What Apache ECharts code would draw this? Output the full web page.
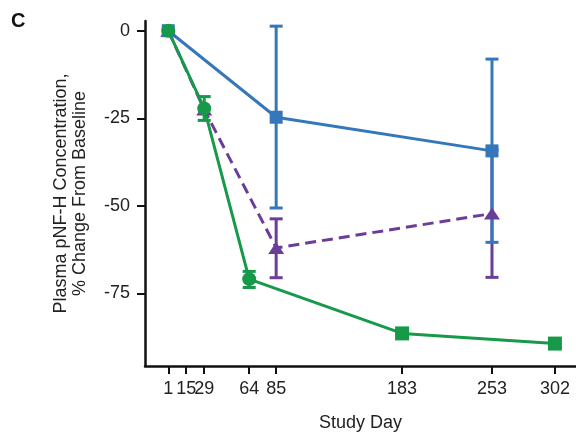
<!DOCTYPE html>
<html>
<head>
<meta charset="utf-8">
<script src="https://cdn.jsdelivr.net/npm/echarts@6/dist/echarts.min.js"></script>
<style>
html,body{margin:0;padding:0;background:#fff;}
#chart{width:576px;height:437px;}
</style>
</head>
<body>
<div id="chart"></div>
<script>
// ---- data ----
const xTickValues = [1, 15, 29, 64, 85, 183, 253, 302];
const yTickValues = [0, -25, -50, -75];

const blueDays  = [1, 85, 253];
const blueMean  = [0, -24.7, -34.3];
const blueUpper = [null, 1.3, -8.1];
const blueLower = [null, -50.6, -60.4];

const purpleDays  = [1, 29, 85, 253];
const purpleMean  = [0, -22.5, -62.0, -52.2];
const purpleUpper = [null, null, -53.7, -34.0];
const purpleLower = [null, null, -70.5, -70.4];

const greenDays    = [1, 29, 64, 183, 302];
const greenMean    = [0, -22.2, -70.9, -86.4, -89.3];
const greenUpper   = [null, -18.8, -68.7, null, null];
const greenLower   = [null, -25.6, -73.3, null, null];
const greenSymbols = ['circle', 'circle', 'circle', 'rect', 'rect'];

// ---- style ----
const BLUE = '#3577bb';
const PURPLE = '#6b3d9a';
const GREEN = '#17994a';
const FONT = "'Liberation Sans', Arial, sans-serif";

function pairs(xs, ys) { return xs.map((x, i) => [x, ys[i]]); }
function errData(xs, up, lo) {
  const out = [];
  xs.forEach((x, i) => { if (up[i] != null && lo[i] != null) out.push([x, lo[i], up[i]]); });
  return out;
}
function errSeries(data, color) {
  return {
    type: 'custom',
    data: data,
    silent: true,
    renderItem: function (params, api) {
      const x = api.value(0);
      const pLo = api.coord([x, api.value(1)]);
      const pHi = api.coord([x, api.value(2)]);
      const w = 6.5;
      const st = { stroke: color, lineWidth: 3, fill: null };
      return {
        type: 'group',
        children: [
          { type: 'line', shape: { x1: pHi[0], y1: pHi[1], x2: pLo[0], y2: pLo[1] }, style: st },
          { type: 'line', shape: { x1: pHi[0] - w, y1: pHi[1], x2: pHi[0] + w, y2: pHi[1] }, style: st },
          { type: 'line', shape: { x1: pLo[0] - w, y1: pLo[1], x2: pLo[0] + w, y2: pLo[1] }, style: st }
        ]
      };
    }
  };
}

const chart = echarts.init(document.getElementById('chart'), null, { renderer: 'canvas' });
chart.setOption({
  animation: false,
  backgroundColor: '#fff',
  grid: { left: 145, right: 0, top: 20.9, bottom: 68.7, containLabel: false },
  graphic: [{
    type: 'text', left: 11, top: 11,
    style: { text: 'C', fontSize: 20, fontWeight: 'bold', fontFamily: FONT, fill: '#111' }
  }],
  xAxis: {
    type: 'value',
    min: -17.1, max: 318.4,
    name: 'Study Day',
    nameLocation: 'middle',
    nameGap: 48,
    nameTextStyle: { fontSize: 18, fontFamily: FONT, color: '#222' },
    splitLine: { show: false },
    axisLine: { onZero: false, lineStyle: { color: '#111', width: 2.5 } },
    axisTick: { customValues: xTickValues, length: 8, lineStyle: { color: '#111', width: 2 } },
    axisLabel: { customValues: xTickValues, fontSize: 18, fontFamily: FONT, color: '#222', margin: 14 }
  },
  yAxis: {
    type: 'value',
    min: -95.7, max: 2.8,
    name: 'Plasma pNF-H Concentration,\n% Change From Baseline',
    nameLocation: 'middle',
    nameGap: 55,
    nameTextStyle: { fontSize: 18, fontFamily: FONT, color: '#222', lineHeight: 19, align: 'center' },
    splitLine: { show: false },
    axisLine: { show: true, onZero: false, lineStyle: { color: '#111', width: 2.5 } },
    axisTick: { show: true, customValues: yTickValues, length: 8, lineStyle: { color: '#111', width: 2 } },
    axisLabel: { customValues: yTickValues, fontSize: 18, fontFamily: FONT, color: '#222', margin: 15 }
  },
  series: [
    {
      type: 'line', data: pairs(purpleDays, purpleMean),
      symbol: 'triangle', symbolSize: [16, 12], showAllSymbol: true,
      itemStyle: { color: PURPLE },
      lineStyle: { color: PURPLE, width: 3, type: [11, 6] }
    },
    errSeries(errData(purpleDays, purpleUpper, purpleLower), PURPLE),
    {
      type: 'line', data: pairs(blueDays, blueMean),
      symbol: 'rect', symbolSize: 13, showAllSymbol: true,
      itemStyle: { color: BLUE },
      lineStyle: { color: BLUE, width: 3 }
    },
    errSeries(errData(blueDays, blueUpper, blueLower), BLUE),
    {
      type: 'line',
      data: greenDays.map((d, i) => ({ value: [d, greenMean[i]], symbol: greenSymbols[i] })),
      symbolSize: 14, showAllSymbol: true,
      itemStyle: { color: GREEN },
      lineStyle: { color: GREEN, width: 3 }
    },
    errSeries(errData(greenDays, greenUpper, greenLower), GREEN)
  ]
});
</script>
</body>
</html>
